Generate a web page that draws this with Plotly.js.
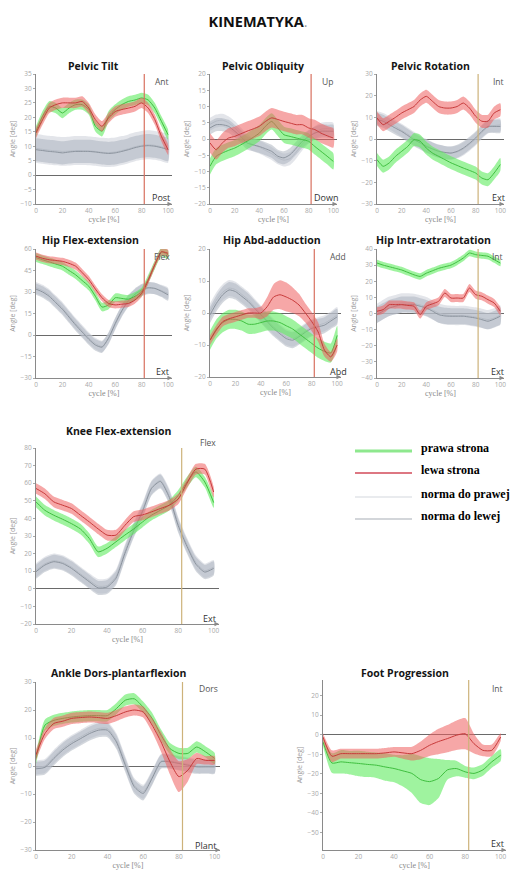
<!DOCTYPE html>
<html><head><meta charset="utf-8">
<script src="https://cdn.plot.ly/plotly-3.0.1.min.js"></script>
<style>html,body{margin:0;padding:0;background:#fff}#chart{width:519px;height:880px}</style>
</head><body><div id="chart"></div>
<script>
// gait cycle [%]
const cycle = [0,5,10,15,20,25,30,35,40,45,50,55,60,65,70,75,80,85,90,95,100];
const toeOff = 82;
const seriesNames = ['prawa strona','lewa strona','norma do prawej','norma do lewej'];
const xTicks = [0,20,40,60,80,100];

// Pelvic Tilt
const tiltR  = [15.2,20.4,23.8,23.2,21.5,23.2,24.4,24.4,22.7,16.9,15.2,20.4,22.7,24.4,25.5,26.0,26.7,26.0,23.2,18.6,14.0];
const tiltL  = [14.6,19.2,23.2,24.4,25.0,25.0,25.0,25.5,23.2,19.2,16.9,19.8,22.0,22.7,23.2,23.8,25.0,23.2,19.2,13.4,8.8];
const tiltNR = [9.3,8.9,8.6,8.4,8.2,8.3,8.5,8.5,8.4,8.2,7.9,7.8,8.0,8.5,9.1,9.8,10.3,10.5,10.3,9.8,9.2];
const tiltNL = [8.8,8.5,8.2,8.0,7.7,8.0,8.2,8.2,8.2,8.0,7.7,7.5,7.7,8.2,8.8,9.5,10.0,10.2,10.0,9.5,8.8];
const tiltSd = [1.8,1.8,5,4];

// Pelvic Obliquity
const oblR  = [-8.4,-5.3,-4.3,-3.5,-2.8,-1.8,-0.7,0.5,1.8,3.9,5.4,3.4,1.3,0.8,0.3,-0.2,-0.7,-2.3,-3.8,-5.3,-6.9];
const oblL  = [-1.2,-3.3,-1.2,0.3,0.8,1.6,2.4,3.1,3.9,5.4,6.5,6.0,5.4,4.9,4.4,4.4,3.4,2.9,1.8,1.0,0.3];
const oblNR = [4.5,5.5,5.8,5.0,3.5,1.5,-0.5,-1.8,-2.5,-3.5,-4.5,-5.8,-6.5,-6.0,-4.0,-1.5,0.5,2.0,3.0,3.2,3.0];
const oblNL = [3.4,4.4,4.4,3.9,2.4,0.8,-1.2,-1.8,-2.3,-3.0,-3.8,-5.3,-5.8,-4.8,-2.8,-0.7,0.8,1.8,2.4,2.4,2.4];
const oblSd = [2.5,3,2,2];

// Pelvic Rotation
const rotR  = [-9.5,-12.6,-11.0,-8.0,-5.7,-3.4,-0.3,-1.0,-4.2,-6.5,-8.0,-9.5,-11.0,-12.2,-13.4,-14.5,-15.7,-18.0,-18.8,-15.7,-11.8];
const rotL  = [9.7,6.6,8.2,10.0,12.0,13.5,15.0,18.0,19.7,17.4,15.0,14.3,14.3,15.0,16.6,14.3,10.5,8.2,8.2,12.0,13.5];
const rotNR = [9.8,9.0,7.5,5.8,4.0,2.2,0.3,-1.5,-3.0,-4.5,-5.5,-6.2,-6.5,-6.0,-4.6,-2.5,0.0,3.0,5.5,6.2,6.5];
const rotNL = [9.0,8.2,6.6,5.0,3.5,1.6,-0.3,-1.8,-3.4,-4.6,-5.7,-6.2,-6.5,-5.7,-4.2,-2.0,0.5,3.5,5.8,5.8,5.8];
const rotSd = [3,3,3,3];

// Hip Flex-extension
const hfR  = [54,52.5,51,49.5,48,45,42,38,34,27,19.5,21,26,25.5,25,27,30,39,49,58,56];
const hfL  = [55,53.5,52.5,52,51.4,50,48,43.5,38.6,32,26,22,21,21.5,22,24.5,29,38,49,58,57];
const hfNR = [33,31,28,23.5,19,13.5,8,3,-2,-6,-8,-2.5,7.5,16.5,23.5,28,31,32.5,32.5,31,29];
const hfNL = [32,30,27,22.5,18,12.5,7,2,-3,-7,-8.5,-2,8,17,24,28.5,31.5,33,32.5,30.5,28];
const hfSd = [3,2.5,4,4];

// Hip Abd-adduction
const haR  = [-8.5,-5,-3,-2,-2,-2.5,-3.5,-3.5,-3,-2.5,-2.5,-3,-4,-5,-6.5,-8,-9.5,-11,-12,-12.5,-7];
const haL  = [-8.5,-5.3,-2.7,-1.8,-1.2,-0.6,0,0,0,2,5,5.7,5,4,2.5,0,-2.7,-5.9,-11.6,-13.7,-10];
const haNR = [0.5,4,6.5,7.8,7.3,5.8,4.2,2,-0.2,-2.3,-4.3,-6,-7.5,-8,-7,-5.6,-4.4,-3.8,-3.2,-2,-0.6];
const haNL = [-0.6,3,5.7,7.2,6.7,5.2,3.6,1.5,-0.6,-2.7,-4.8,-6.5,-8,-8.5,-7.4,-6,-4.8,-4.3,-3.8,-2.5,-1.2];
const haLsd = [1.5,1.5,1.5,1.5,1.5,1.5,1.5,1.5,2,3,4,4.5,4.5,4,3.5,3,3,3,2,1.5,2];
const haSd = [3,haLsd,2.5,2.5];

// Hip Intr-extrarotation
const hrR  = [31.3,30,29,28,27,25.5,24,23,25,26.5,28,29,30,32,34.4,37.5,36.5,36,35.5,33.4,31.3];
const hrL  = [1.4,2.4,5.5,5.5,5.5,5,4.5,-0.7,4.5,6,7.6,12.7,9.6,9.6,9.6,15.8,11.7,10.7,8.6,6.5,1.4];
const hrNR = [0,2.5,4.5,5.5,6.5,6.5,6.2,5.3,4.2,2.3,0.3,-0.8,-1.2,-1.3,-1.2,-1.6,-2.2,-3.0,-3.8,-2.8,-1];
const hrNL = [-0.7,1.5,3.4,4.5,5.5,5.5,5.5,4.5,3.4,1.5,-0.7,-1.5,-1.7,-1.7,-1.7,-2.2,-2.8,-3.8,-4.8,-3.5,-1.7];
const hrSd = [2,2.5,6,5];

// Knee Flex-extension
const knR  = [49.4,44.6,41.8,39.5,37,34,28.6,21,23,26.7,30.5,34,38,41.8,44.6,47.5,53,60.7,66.4,60.7,49];
const knL  = [57,54,49.4,47.5,45.6,41.8,38,34,30.5,30.5,36,41,42,43.7,45.6,47.5,51,60,68,68,55];
const knNR = [10.5,14.2,16,15,12.3,8.5,4.8,1.5,1.8,7,21,34,45,57.5,61.5,53,37,25,15,10.3,12.3];
const knNL = [9.7,13.5,15.4,14.4,11.6,7.8,4,0.5,1,6,20,33,44,57,61,52,36,24,14,9.5,11.6];
const knSd = [3,3,4,4];

// Ankle Dors-plantarflexion
const anR  = [2.7,14.6,16.3,17,17.5,17.8,18,18,18,20.5,23.5,24,21,17,11,6.2,4.5,4.5,6.8,5,2.7];
const anL  = [4,11.6,15.2,16,17,17.3,17.5,17.3,17,18,19.3,20,19.3,14.6,8.6,1.5,-3.8,-1.5,2.7,2,2];
const anNR = [-0.5,0,3.3,6.3,8.6,10.4,12.2,13.4,13.4,9.2,1,-6.8,-9.2,-4,1.8,1.8,1.2,0.6,0,0,0];
const anNL = [-1,-0.5,2.7,5.7,8,9.8,11.6,12.8,12.8,8.6,0.3,-7.4,-9.8,-4.4,1.5,1.5,0.9,0.3,-0.3,-0.3,-0.3];
const anLsd = [2,2,2,2,2,2,2,2,2,2,2,2,2,2.5,3.5,4.5,5.5,4,2,1.5,1.5];
const anSd = [2,anLsd,2.5,2.5];

// Foot Progression
const fpR   = [-3.7,-14.5,-13.9,-14.3,-14.7,-15.2,-15.6,-16.5,-17.3,-18.5,-19.8,-23,-24,-22.4,-18,-17.3,-19,-19.8,-18,-13.9,-10.5];
const fpL   = [-1.2,-11,-9.7,-9.7,-9.7,-9.7,-9.7,-9.3,-8.8,-9.3,-9.7,-8,-5.4,-3.5,-2,-0.3,0.5,-4.6,-8,-8,-1.2];
const fpRsd = [2,5,6,6,6.5,6.5,6.5,7,7,8,10,12,12,10,5,4,3,3,3,3,3];
const fpLsd = [2,3,2.5,2.5,2.5,2.5,2.5,2.5,2.5,3,3.5,4.5,5.5,6.5,7,7.5,8,5,3,3,2];
const fpSd = [fpRsd,fpLsd];

const W = 519, H = 880;
const RED_V = '#d8705f', KHAKI_V = '#cdb27a';
// styles: [band fill, line colour] for green, red, norm right, norm left
const styles = [
  ['rgba(95,235,95,0.60)', '#3fbf3f'],
  ['rgba(238,95,95,0.55)', '#c83a3a'],
  ['rgba(208,212,220,0.60)', '#c2c6ce'],
  ['rgba(168,176,188,0.50)', '#8c949e']
];
const drawOrder = [2,3,0,1];

const panels = [
  {t:'Pelvic Tilt', up:'Ant', dn:'Post', yr:[-10,35], dt:5, box:[36,172,74,204], vc:RED_V, tt:[93,66], lu:[162,82], ld:[161,197], s:[tiltR,tiltL,tiltNR,tiltNL], sd:tiltSd},
  {t:'Pelvic Obliquity', up:'Up', dn:'Down', yr:[-20,20], dt:5, box:[210,337,74,204], vc:RED_V, tt:[263,66], lu:[327,82], ld:[326,197], s:[oblR,oblL,oblNR,oblNL], sd:oblSd},
  {t:'Pelvic Rotation', up:'Int', dn:'Ext', yr:[-30,30], dt:10, box:[377,504,74,204], vc:KHAKI_V, tt:[430,66], lu:[498,82], ld:[498,197], s:[rotR,rotL,rotNR,rotNL], sd:rotSd},
  {t:'Hip Flex-extension', up:'Flex', dn:'Ext', yr:[-30,60], dt:15, box:[36,172,249,378], vc:RED_V, tt:[90,240], lu:[162,256], ld:[162,371], s:[hfR,hfL,hfNR,hfNL], sd:hfSd},
  {t:'Hip Abd-adduction', up:'Add', dn:'Abd', yr:[-20,20], dt:10, box:[210,341,249,377], vc:RED_V, tt:[272,240], lu:[338,256], ld:[338,371], s:[haR,haL,haNR,haNL], sd:haSd},
  {t:'Hip Intr-extrarotation', up:'Int', dn:'Ext', yr:[-40,40], dt:10, box:[377,504,249,378], vc:KHAKI_V, tt:[433,240], lu:[497,256], ld:[497,371], s:[hrR,hrL,hrNR,hrNL], sd:hrSd},
  {t:'Knee Flex-extension', up:'Flex', dn:'Ext', yr:[-20,80], dt:10, box:[36,219,448,624], vc:KHAKI_V, tt:[118,431], lu:[208,442], ld:[209,618], s:[knR,knL,knNR,knNL], sd:knSd},
  {t:'Ankle Dors-plantarflexion', up:'Dors', dn:'Plant', yr:[-30,30], dt:10, box:[36,220,682,850], vc:KHAKI_V, tt:[118,673], lu:[208,688], ld:[205,845], s:[anR,anL,anNR,anNL], sd:anSd},
  {t:'Foot Progression', up:'Int', dn:'Ext', yr:[-59,28], dt:10, tv:[-50,-40,-30,-20,-10,0,10,20], box:[323,506,680,850], vc:KHAKI_V, tt:[405,673], lu:[497,688], ld:[497,843], s:[fpR,fpL], sd:fpSd}
];

const traces = [];
const layout = {
  width:W, height:H, margin:{l:0,r:0,t:0,b:0}, paper_bgcolor:'#fff', plot_bgcolor:'rgba(0,0,0,0)',
  showlegend:false,
  font:{family:'Open Sans, sans-serif'},
  title:{text:'<b>KINEMATYKA</b><span style="color:#999">.</span>', x:258/W, xanchor:'center', y:1-22/H, yanchor:'middle', font:{size:14.5, color:'#111', family:'Open Sans, sans-serif'}},
  shapes:[], annotations:[]
};

function sdAt(sd, k){ return Array.isArray(sd) ? sd[k] : sd; }

panels.forEach((p,i)=>{
  const n = i===0 ? '' : String(i+1);
  const xa = 'x'+n, ya = 'y'+n;
  drawOrder.forEach(j=>{
    if (j >= p.s.length) return;
    const m = p.s[j], sd = p.sd[j];
    const up = m.map((v,k)=>v+sdAt(sd,k));
    const lo = m.map((v,k)=>v-sdAt(sd,k));
    traces.push({x:cycle.concat(cycle.slice().reverse()), y:up.concat(lo.slice().reverse()),
      xaxis:xa, yaxis:ya, mode:'lines', fill:'toself', fillcolor:styles[j][0],
      line:{width:0, shape:'spline', smoothing:0.6}, hoverinfo:'skip', name:seriesNames[j]});
    traces.push({x:cycle, y:m, xaxis:xa, yaxis:ya, mode:'lines', name:seriesNames[j],
      line:{color:styles[j][1], width:1, shape:'spline', smoothing:0.6}});
  });
  const [x0,x1,y0,y1] = p.box;
  layout['xaxis'+n] = {domain:[x0/W, x1/W], range:[0,103], anchor:ya, tickvals:xTicks,
    tickfont:{size:6.5, color:'#a8a8a8'}, showline:true, linecolor:'#8a8a8a', linewidth:1, ticks:'',
    showgrid:false, zeroline:false, fixedrange:true,
    title:{text:'cycle [%]', font:{size:8, color:'#888', family:'Liberation Serif, serif'}, standoff:2}};
  const ya_ = {domain:[1-y1/H, 1-y0/H], range:p.yr, anchor:xa,
    tickfont:{size:6.5, color:'#a8a8a8'}, showline:true, linecolor:'#8a8a8a', linewidth:1,
    ticks:'outside', ticklen:2, tickcolor:'#aaa', showgrid:false,
    zeroline:true, zerolinecolor:'#6a6a6a', zerolinewidth:1, fixedrange:true,
    title:{text:'Angle [deg]', font:{size:7, color:'#999'}, standoff:4}};
  if (p.tv) ya_.tickvals = p.tv; else ya_.dtick = p.dt;
  layout['yaxis'+n] = ya_;
  layout.shapes.push({type:'line', xref:xa, yref:ya+' domain', x0:toeOff, x1:toeOff, y0:0, y1:1,
    line:{color:p.vc, width:1.2}, layer:'above'});
  layout.annotations.push({xref:xa, yref:ya+' domain', x:103, y:0, ax:-6, ay:0, axref:'pixel', ayref:'pixel',
    text:'', showarrow:true, arrowhead:2, arrowsize:0.9, arrowwidth:1, arrowcolor:'#8a8a8a'});
  layout.annotations.push({xref:'paper', yref:'paper', x:p.tt[0]/W, y:1-p.tt[1]/H, text:'<b>'+p.t+'</b>',
    showarrow:false, xanchor:'center', yanchor:'middle', font:{size:10.5, color:'#151515', family:'Open Sans, sans-serif'}});
  layout.annotations.push({xref:'paper', yref:'paper', x:p.lu[0]/W, y:1-p.lu[1]/H, text:p.up,
    showarrow:false, xanchor:'center', yanchor:'middle', font:{size:8.5, color:'#555'}});
  layout.annotations.push({xref:'paper', yref:'paper', x:p.ld[0]/W, y:1-p.ld[1]/H, text:p.dn,
    showarrow:false, xanchor:'center', yanchor:'middle', font:{size:9, color:'#333'}});
});

// legend
const legendLines = [['#8ee88e',3],['#d24a58',1.6],['#e2e4e8',1.6],['#c4c8ce',1.6]];
const legendY = [451,473,497,519];
seriesNames.forEach((nm,k)=>{
  layout.shapes.push({type:'line', xref:'paper', yref:'paper', x0:355/W, x1:412/W, y0:1-legendY[k]/H, y1:1-legendY[k]/H,
    line:{color:legendLines[k][0], width:legendLines[k][1]}});
  layout.annotations.push({xref:'paper', yref:'paper', x:419/W, y:1-(legendY[k]-3)/H, text:'<b>'+nm+'</b>',
    showarrow:false, xanchor:'left', yanchor:'middle', font:{size:12, color:'#000', family:'Liberation Serif, serif'}});
});

Plotly.newPlot('chart', traces, layout, {staticPlot:true});
</script></body></html>
